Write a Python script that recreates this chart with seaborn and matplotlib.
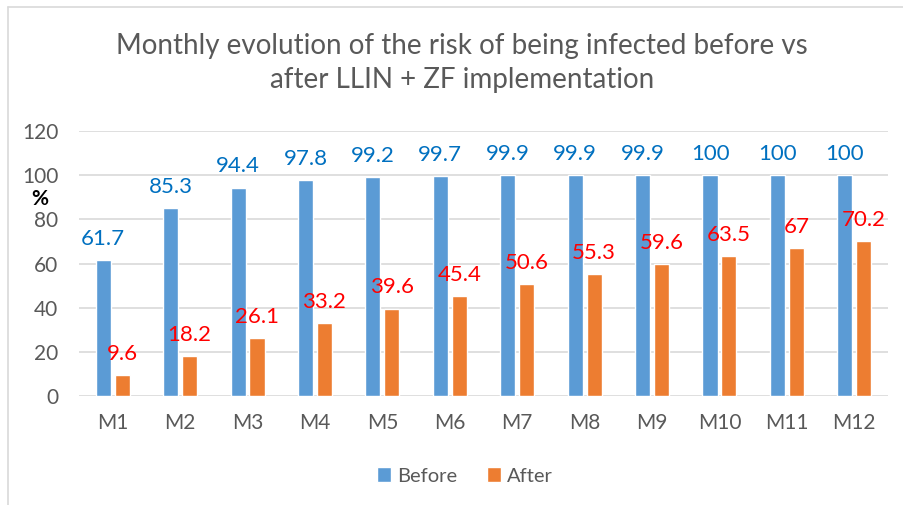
import matplotlib
matplotlib.use("Agg")
import matplotlib.pyplot as plt
from matplotlib.lines import Line2D
import pandas as pd
import seaborn as sns

# Values
months = ['M1', 'M2', 'M3', 'M4', 'M5', 'M6', 'M7', 'M8', 'M9', 'M10', 'M11', 'M12']
before = [61.7, 85.3, 94.4, 97.8, 99.2, 99.7, 99.9, 99.9, 99.9, 100, 100, 100]
after = [9.6, 18.2, 26.1, 33.2, 39.6, 45.4, 50.6, 55.3, 59.6, 63.5, 67, 70.2]
series = ['Before', 'After']

df = pd.DataFrame({
    'Month': months * 2,
    'Period': ['Before'] * len(months) + ['After'] * len(months),
    'Risk': before + after,
})

palette = {'Before': '#5B9BD5', 'After': '#ED7D31'}
label_colors = {'Before': '#0070C0', 'After': '#FF0000'}
gray = '#595959'

sns.set_style("white")
plt.rcParams['font.family'] = ['Lato', 'DejaVu Sans']

fig = plt.figure(figsize=(9.04, 5.05), dpi=100)
ax = fig.add_axes([79 / 904, 1 - 396 / 505, (888 - 79) / 904, (396 - 131) / 505])

sns.barplot(data=df, x='Month', y='Risk', hue='Period', hue_order=series,
            palette=palette, width=0.56, gap=0.2, saturation=1, ax=ax, zorder=3)

ax.set_ylim(0, 120)
ax.set_yticks(range(0, 121, 20))
ax.grid(axis='y', color='#D9D9D9', linewidth=1.2, zorder=0)
ax.set_xlabel('')
ax.set_ylabel('')
for s in ax.spines.values():
    s.set_visible(False)
ax.tick_params(axis='y', length=0, pad=15, labelsize=15, labelcolor=gray)
ax.tick_params(axis='x', length=0, pad=12, labelsize=15, labelcolor=gray)

# data labels above the bars
for cont, name in zip(ax.containers, series):
    ax.bar_label(cont, labels=[f'{v:g}' for v in cont.datavalues],
                 padding=8, color=label_colors[name], fontsize=16)

ax.text(40 / 904, 1 - 199 / 505, '%', transform=fig.transFigure,
        ha='center', va='center', fontsize=15, fontweight='bold', color='black')

fig.suptitle('Monthly evolution of the risk of being infected before vs\n'
             'after LLIN + ZF implementation',
             x=462 / 904, y=1 - 63 / 505, va='center', fontsize=20,
             color=gray, linespacing=1.35)

handles, labels = ax.get_legend_handles_labels()
ax.legend(handles, labels, loc='center', ncol=2, frameon=False,
          bbox_to_anchor=(465 / 904, 1 - 476 / 505), bbox_transform=fig.transFigure,
          handlelength=0.7, handleheight=0.7, handletextpad=0.3,
          columnspacing=1.5, fontsize=14.5, labelcolor=gray)

# partial chart-area border visible in the reference
fig.add_artist(Line2D([8 / 904, 8 / 904], [0, 1 - 7 / 505], color='#D9D9D9', lw=1.2))
fig.add_artist(Line2D([8 / 904, 1], [1 - 7 / 505, 1 - 7 / 505], color='#D9D9D9', lw=1.2))

fig.savefig('out.png', dpi=100)
